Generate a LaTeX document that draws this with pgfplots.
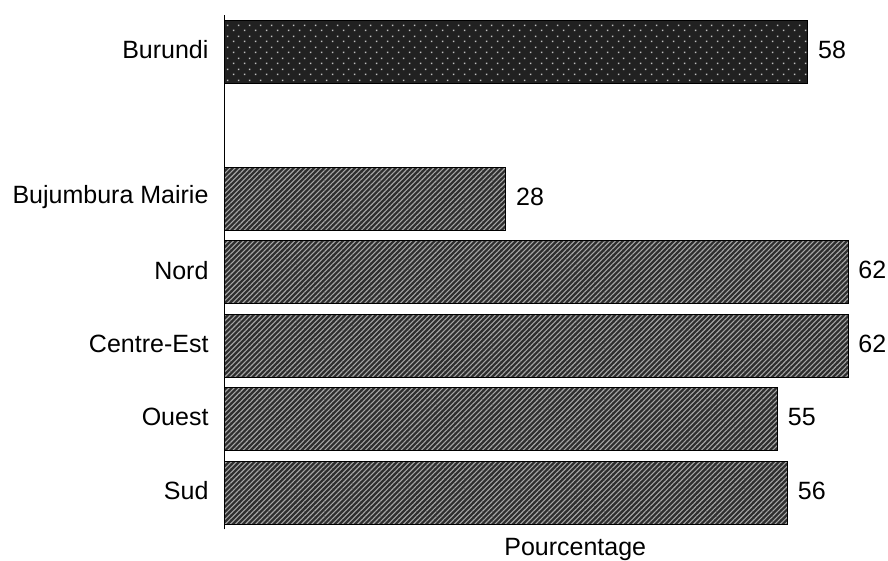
\documentclass[border=0pt]{standalone}
\usepackage{pgfplots}
\pgfplotsset{compat=1.18}
\usepackage{fontspec}
\setmainfont{Liberation Sans}
\usetikzlibrary{patterns.meta}
\tikzdeclarepattern{name=mydots, type=uncolored, bounding box={(0,0) and (11pt,11pt)}, tile size={(11pt,11pt)},
  code={\fill (2pt,2pt) rectangle (3.6pt,3.6pt); \fill (7.5pt,7.5pt) rectangle (9.1pt,9.1pt);}}
\newcommand{\lab}{\fontsize{25}{29}\selectfont}
\begin{document}
\begin{tikzpicture}
\useasboundingbox (0,0) rectangle (888pt,561pt);
\begin{axis}[
  at={(224pt,31.5pt)}, anchor=south west,
  x=10.065pt, y=73.5pt,
  xmin=0, xmax=66, ymin=-0.5, ymax=6.5,
  axis y line=left, axis x line=none,
  axis line style={-, black, line width=0.8pt},
  xtick=\empty,
  ytick={0,1,2,3,4,6},
  yticklabels={Sud,Ouest,Centre-Est,Nord,Bujumbura Mairie,Burundi},
  major tick length=0pt,
  yticklabel style={font=\lab, xshift=-12pt, yshift=2pt},
  xbar, bar width=63pt, bar shift=0pt,
  /pgf/number format/assume math mode=true,
  nodes near coords,
  every node near coord/.append style={font=\lab, anchor=west, inner sep=0pt, xshift=10pt, yshift=2pt, text=black},
  clip=false,
]
\addplot[draw=black, line width=0.7pt, fill=black!87, postaction={pattern=mydots, pattern color=white!75!black}]
  coordinates {(58,6)};
\addplot[draw=black, line width=0.7pt, fill=black!82, postaction={pattern={Lines[angle=45, distance=3.6pt, line width=1.1pt]}, pattern color=white!65!black}]
  coordinates {(56,0) (55,1) (62,2) (62,3) (28,4)};
\node[font=\lab, anchor=north, inner sep=0pt] at (axis cs:34.9,-0.5) [yshift=-8.5pt] {Pourcentage};
\end{axis}
\end{tikzpicture}
\end{document}
